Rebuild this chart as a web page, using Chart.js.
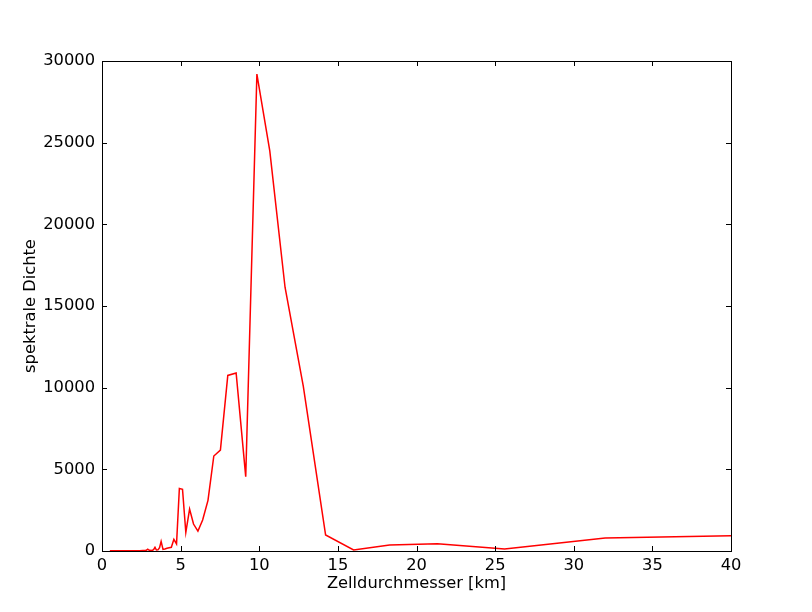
<!DOCTYPE html>
<html>
<head>
<meta charset="utf-8">
<script src="https://cdn.jsdelivr.net/npm/chart.js@4.4.1/dist/chart.umd.min.js"></script>
<style>
html,body{margin:0;padding:0;background:#fff;}
#wrap{width:812px;height:612px;}
</style>
</head>
<body>
<div id="wrap"><canvas id="c" width="812" height="612"></canvas></div>
<script>
// Zelldurchmesser [km]
const diameters = [0.5, 0.6, 0.8, 1.0, 1.2, 1.4, 1.6, 1.8, 2.0, 2.2, 2.4, 2.6, 2.78,
  2.84, 2.91, 2.98, 3.05, 3.12, 3.2, 3.28, 3.37, 3.46, 3.56, 3.66, 3.76, 3.88, 4.0,
  4.13, 4.27, 4.41, 4.57, 4.74, 4.92, 5.12, 5.33, 5.57, 5.82, 6.10, 6.4, 6.74, 7.11,
  7.53, 8.0, 8.53, 9.14, 9.85, 10.67, 11.64, 12.8, 14.22, 16.0, 18.29, 21.33, 25.6,
  32.0, 42.67];
// spektrale Dichte
const density = [10, 10, 10, 10, 12, 12, 15, 15, 15, 18, 20, 25, 30,
  60, 110, 60, 40, 30, 40, 80, 225, 60, 70, 200, 590, 100, 120,
  170, 200, 225, 715, 430, 3830, 3780, 1140, 2570, 1650, 1220, 1900, 3100, 5815,
  6180, 10750, 10900, 4550, 29200, 24500, 16150, 10100, 980, 60, 370, 440, 120,
  790, 990];
const xTicks = [0, 5, 10, 15, 20, 25, 30, 35, 40];
const yTicks = [0, 5000, 10000, 15000, 20000, 25000, 30000];

const FONT = "'DejaVu Sans', sans-serif";
const FSIZE = 16.3;

const frameTicks = {
  id: 'frameTicks',
  afterDraw(chart) {
    const ctx = chart.ctx;
    const a = chart.chartArea;
    const xs = chart.scales.x, ys = chart.scales.y;
    const L = 5;
    ctx.save();
    ctx.strokeStyle = '#000';
    ctx.lineWidth = 1;
    ctx.beginPath();
    xTicks.forEach(v => {
      const px = Math.round(xs.getPixelForValue(v)) + 0.5;
      ctx.moveTo(px, a.bottom); ctx.lineTo(px, a.bottom - L);
      ctx.moveTo(px, a.top); ctx.lineTo(px, a.top + L);
    });
    yTicks.forEach(v => {
      const py = Math.round(ys.getPixelForValue(v)) + 0.5;
      ctx.moveTo(a.left, py); ctx.lineTo(a.left + L, py);
      ctx.moveTo(a.right, py); ctx.lineTo(a.right - L, py);
    });
    ctx.stroke();
    ctx.strokeRect(Math.round(a.left) + 0.5, Math.round(a.top) + 0.5,
      Math.round(a.right - a.left), Math.round(a.bottom - a.top));
    ctx.restore();
  }
};

new Chart(document.getElementById('c'), {
  type: 'line',
  data: {
    datasets: [{
      data: diameters.map((d, i) => ({x: d, y: density[i]})),
      borderColor: '#ff0000',
      borderWidth: 1.5,
      pointRadius: 0,
      fill: false,
      tension: 0
    }]
  },
  options: {
    responsive: false,
    animation: false,
    layout: {padding: {top: 61, right: 81, left: 0, bottom: 0}},
    plugins: {legend: {display: false}, tooltip: {enabled: false}},
    scales: {
      x: {
        type: 'linear', min: 0, max: 40,
        afterBuildTicks: s => { s.ticks = xTicks.map(v => ({value: v})); },
        afterFit: s => { s.height = 61; },
        grid: {display: false, drawTicks: false},
        border: {display: false},
        ticks: {color: '#000', font: {family: FONT, size: FSIZE}, padding: 5, maxRotation: 0, autoSkip: false},
        title: {display: true, text: 'Zelldurchmesser [km]', color: '#000',
          font: {family: FONT, size: FSIZE}, padding: {top: 0, bottom: 18}}
      },
      y: {
        type: 'linear', min: 0, max: 30000,
        afterBuildTicks: s => { s.ticks = yTicks.map(v => ({value: v})); },
        afterFit: s => { s.width = 102; },
        grid: {display: false, drawTicks: false},
        border: {display: false},
        ticks: {color: '#000', font: {family: FONT, size: FSIZE}, padding: 7, autoSkip: false,
          callback: v => String(v)},
        title: {display: true, text: 'spektrale Dichte', color: '#000',
          font: {family: FONT, size: FSIZE}, padding: {top: 21, bottom: 0}}
      }
    }
  },
  plugins: [frameTicks]
});
</script>
</body>
</html>
